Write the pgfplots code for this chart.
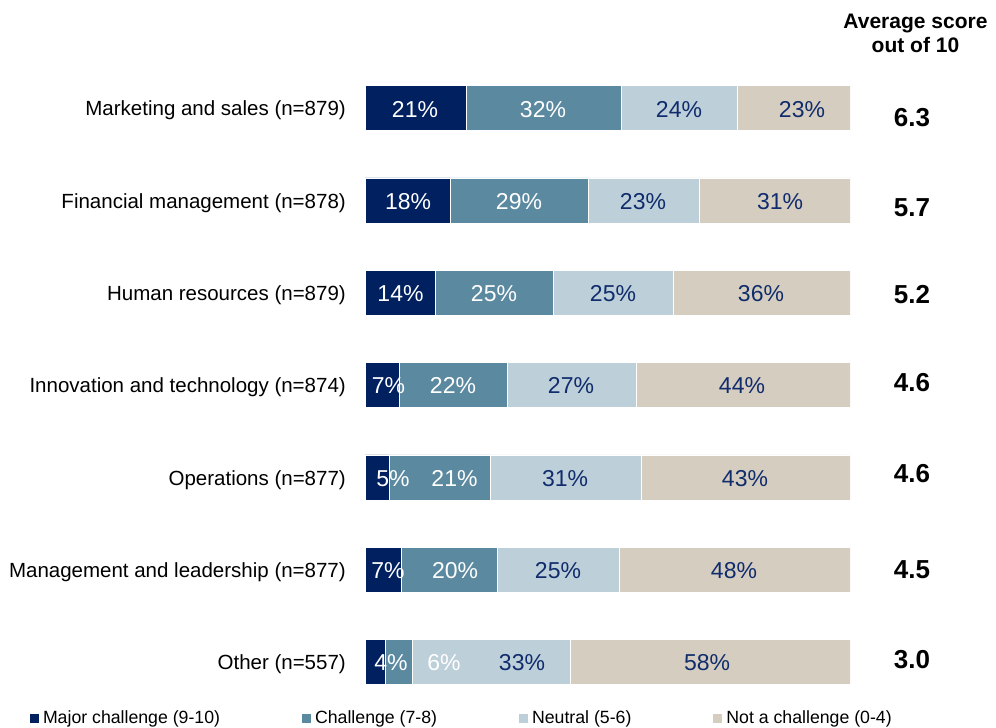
\documentclass[border=0pt]{standalone}
\usepackage{fontspec}
\setmainfont{Liberation Sans}
\usepackage{pgfplots}
\usepackage{pgfplotstable}
\pgfplotsset{compat=1.18}
\definecolor{cMajor}{HTML}{002060}
\definecolor{cChal}{HTML}{5B89A0}
\definecolor{cNeut}{HTML}{BDCFD9}
\definecolor{cNot}{HTML}{D5CDC0}
\definecolor{cText}{HTML}{102C6C}

% segment widths (percent); rows: 6 = top
\pgfplotstableread{
y major chal neut notch
6 20.8 32.0 24.0 23.2
5 17.5 28.5 22.9 31.1
4 14.4 24.5 24.7 36.4
3 7.0 22.3 26.6 44.1
2 5.0 20.8 31.1 43.1
1 7.4 19.8 25.2 47.6
0 4.1 5.6 32.6 57.7
}\bars

\pgfplotstableread{
x y lab
10.31 6 21
36.70 6 32
8.87 5 18
31.75 5 29
7.32 4 14
26.60 4 25
4.85 3 7
18.14 3 22
5.77 2 5
18.45 2 21
4.74 1 7
18.56 1 20
5.36 0 4
16.29 0 6
}\whitelabels

\pgfplotstableread{
x y lab
64.74 6 24
90.10 6 23
57.32 5 23
85.57 5 31
51.13 4 25
81.65 4 36
42.47 3 27
77.73 3 44
41.24 2 31
78.35 2 43
39.79 1 25
76.08 1 48
32.37 0 33
70.52 0 58
}\navylabels

\pgfplotstableread{
x y lab
112.78 5.893 6.3
112.78 4.918 5.7
112.78 3.975 5.2
112.78 3.022 4.6
112.78 2.036 4.6
112.78 0.996 4.5
112.78 0.020 3.0
}\scores

\begin{document}
\begin{tikzpicture}
\useasboundingbox (0,0) rectangle (996pt,728pt);
\pgfplotsset{mygeom/.style={at={(365pt,20pt)}, anchor=south west,
  scale only axis, width=485pt, height=646pt,
  xmin=0, xmax=100, ymin=-0.5, ymax=6.5}}
\begin{axis}[mygeom,
  xbar stacked, bar width=45pt,
  axis line style={draw=none}, major tick length=0pt,
  xtick=\empty, ytick={0,...,6},
  yticklabels={Other (n=557), Management and leadership (n=877), Operations (n=877), Innovation and technology (n=874), Human resources (n=879), Financial management (n=878), Marketing and sales (n=879)},
  yticklabel style={font=\fontsize{20.5}{24}\selectfont, inner sep=0pt, anchor=east, xshift=-19pt, yshift=-2.5pt},
  legend columns=4,
  legend style={draw=none, fill=none, at={(axis description cs:-0.6907,-0.0155)}, anchor=west,
    font=\fontsize{17.7}{20}\selectfont, inner sep=0pt, outer sep=0pt, nodes={inner sep=0pt},
    /tikz/every odd column/.append style={column sep=4pt},
    /tikz/every even column/.append style={column sep=82pt}},
  legend image code/.code={\draw[#1, draw=none] (0pt,-4.5pt) rectangle (9pt,4.5pt);},
]
\addplot[fill=cMajor, draw=white, line width=0.4pt] table[x=major, y=y]{\bars};
\addlegendentry{Major challenge (9-10)}
\addplot[fill=cChal, draw=white, line width=0.4pt] table[x=chal, y=y]{\bars};
\addlegendentry{Challenge (7-8)}
\addplot[fill=cNeut, draw=white, line width=0.4pt] table[x=neut, y=y]{\bars};
\addlegendentry{Neutral (5-6)}
\addplot[fill=cNot, draw=white, line width=0.4pt] table[x=notch, y=y]{\bars};
\addlegendentry{Not a challenge (0-4)}
\end{axis}
\begin{axis}[mygeom, hide axis, clip=false]
\addplot[draw=none, mark=none, nodes near coords={\pgfplotspointmeta\%}, point meta=explicit symbolic,
  every node near coord/.append style={anchor=center, inner sep=0pt, yshift=-1pt, text=white, font=\fontsize{23}{27}\selectfont}]
  table[x=x, y=y, meta=lab]{\whitelabels};
\addplot[draw=none, mark=none, nodes near coords={\pgfplotspointmeta\%}, point meta=explicit symbolic,
  every node near coord/.append style={anchor=center, inner sep=0pt, yshift=-1pt, text=cText, font=\fontsize{23}{27}\selectfont}]
  table[x=x, y=y, meta=lab]{\navylabels};
\addplot[draw=none, mark=none, nodes near coords={\pgfplotspointmeta}, point meta=explicit symbolic,
  every node near coord/.append style={anchor=center, inner sep=0pt, text=black, font=\bfseries\fontsize{26}{30}\selectfont}]
  table[x=x, y=y, meta=lab]{\scores};
\node[align=center, font=\bfseries\fontsize{21}{24}\selectfont] at (axis cs:113.5,6.814) {Average score\\out of 10};
\end{axis}
\end{tikzpicture}
\end{document}
